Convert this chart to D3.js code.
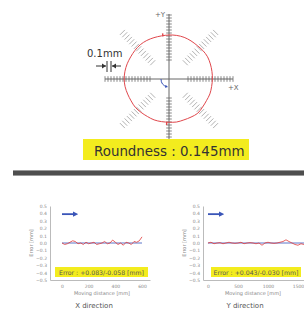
<!DOCTYPE html>
<html>
<head>
<meta charset="utf-8">
<script src="https://d3js.org/d3.v7.min.js"></script>
<style>
  body { margin: 0; background: #fff; }
  svg { display: block; font-family: "DejaVu Sans", Verdana, sans-serif; }
</style>
</head>
<body>
<script>

// roundness profile: deviation in mm every 10 degrees, starting at +X, counterclockwise
var profileAngles = d3.range(0, 360, 10);
var profileDevs = [-0.015, -0.01, 0.0, 0.012, 0.006, -0.006, 0.0, 0.008, 0.006, 0.0,
                   -0.006, 0.0, 0.012, 0.018, 0.012, 0.006, 0.012, 0.018, 0.02, 0.014,
                   0.0, -0.006, 0.0, -0.012, -0.018, -0.012, -0.018, -0.02, -0.008, -0.012,
                   0.0, 0.018, -0.006, -0.018, -0.012, -0.018];
var spikeAngles = [98, 267];
var roundnessLabel = "Roundness : 0.145mm";

// straightness along X
var xDistance = d3.range(0, 601, 20);
var xError = [0.00, -0.02, -0.01, 0.01, 0.03, 0.02, -0.01, 0.00, -0.02, 0.01,
              -0.01, 0.00, 0.01, -0.02, -0.01, 0.00, 0.02, -0.01, 0.00, 0.04,
              0.01, -0.02, 0.00, -0.03, 0.01, 0.00, -0.02, 0.02, 0.01, 0.03, 0.083];
var xTicks = [0, 200, 400, 600];
var xErrorLabel = "Error : +0.083/-0.058 [mm]";

// straightness along Y
var yDistance = d3.range(0, 1601, 50);
var yError = [0.00, 0.01, -0.01, 0.00, 0.005, -0.01, 0.00, 0.01, 0.00, -0.005,
              0.00, 0.01, -0.01, 0.00, 0.005, 0.00, -0.01, 0.00, -0.03, 0.00,
              0.01, 0.00, -0.005, 0.00, 0.01, 0.02, 0.043, 0.02, 0.00, -0.02,
              -0.03, -0.01, -0.02];
var yTicks = [0, 500, 1000, 1500];
var yErrorLabel = "Error : +0.043/-0.030 [mm]";

var errorTicks = [0.5, 0.4, 0.3, 0.2, 0.1, 0, -0.1, -0.2, -0.3, -0.4, -0.5];

var width = 304;
var height = 309;
var yellow = "#f3ec1e";

var svg = d3.select("body")
            .append("svg")
            .attr("width", width)
            .attr("height", height);

svg.append("defs").append("marker")
   .attr("id", "head")
   .attr("viewBox", "0 0 10 10")
   .attr("refX", 6)
   .attr("refY", 5)
   .attr("markerWidth", 3)
   .attr("markerHeight", 3)
   .attr("orient", "auto")
   .append("path")
   .attr("d", "M0,0 L10,5 L0,10 z")
   .attr("fill", "#3a55b8");

// ---------- roundness plot ----------
var cx = 169;
var cy = 79;
var baseRadius = 44;

// mm deviation to pixel radius
var rScale = d3.scaleLinear()
               .domain([0, 0.1])
               .range([baseRadius, baseRadius + 4]);

var roundG = svg.append("g")
                .attr("transform", "translate(" + cx + "," + cy + ")");

// hatch marks on the axes and the diagonals
function hatch(angleDeg, r0, r1, step, half, color) {
  var a = angleDeg * Math.PI / 180;
  var ux = Math.cos(a), uy = -Math.sin(a);
  var px = -uy, py = ux;
  roundG.selectAll(null)
        .data(d3.range(r0, r1, step))
        .enter()
        .append("line")
        .attr("x1", function(r) { return ux * r - px * half; })
        .attr("y1", function(r) { return uy * r - py * half; })
        .attr("x2", function(r) { return ux * r + px * half; })
        .attr("y2", function(r) { return uy * r + py * half; })
        .attr("stroke", color)
        .attr("stroke-width", 0.9);
}

[0, 90, 180, 270].forEach(function(a) { hatch(a, 19, 65, 3, 2.8, "#7a7a7a"); });
[45, 135, 225, 315].forEach(function(a) { hatch(a, 23, 68, 3.3, 3.5, "#a8a8a8"); });

// axes
roundG.append("line")
      .attr("x1", -64).attr("x2", 64)
      .attr("y1", 0).attr("y2", 0)
      .attr("stroke", "#666").attr("stroke-width", 1);

roundG.append("line")
      .attr("x1", 0).attr("x2", 0)
      .attr("y1", -65).attr("y2", 62)
      .attr("stroke", "#666").attr("stroke-width", 1);

roundG.append("text")
      .attr("x", -14).attr("y", -62)
      .attr("font-size", 7).attr("fill", "#666")
      .text("+Y");

roundG.append("text")
      .attr("x", 59).attr("y", 11)
      .attr("font-size", 7).attr("fill", "#666")
      .text("+X");

// measured profile
var radial = d3.lineRadial()
               .angle(function(d, i) { return (90 - profileAngles[i]) * Math.PI / 180; })
               .radius(function(d) { return rScale(d); })
               .curve(d3.curveCardinalClosed);

roundG.append("path")
      .attr("d", radial(profileDevs))
      .attr("fill", "none")
      .attr("stroke", "#e0474c")
      .attr("stroke-width", 1);

// small spikes on the profile
roundG.selectAll("line.spike")
      .data(spikeAngles)
      .enter()
      .append("line")
      .attr("class", "spike")
      .attr("x1", function(d) { return Math.cos(d * Math.PI / 180) * (baseRadius - 1); })
      .attr("y1", function(d) { return -Math.sin(d * Math.PI / 180) * (baseRadius - 1); })
      .attr("x2", function(d) { return Math.cos(d * Math.PI / 180) * (baseRadius + 2); })
      .attr("y2", function(d) { return -Math.sin(d * Math.PI / 180) * (baseRadius + 2); })
      .attr("stroke", "#e0474c")
      .attr("stroke-width", 1.4);

// rotation direction arrow
var rot = d3.path();
rot.arc(0, 0, 8, Math.PI, Math.PI * 0.58, true);
roundG.append("path")
      .attr("d", rot.toString())
      .attr("fill", "none")
      .attr("stroke", "#3a55b8")
      .attr("stroke-width", 1)
      .attr("marker-end", "url(#head)");

// 0.1mm scale marker
var scaleLeft = 107;
var scaleRight = scaleLeft + (rScale(0.1) - rScale(0));

svg.append("text")
   .attr("x", 87).attr("y", 57)
   .attr("font-size", 10).attr("fill", "#333")
   .text("0.1mm");

[scaleLeft, scaleRight].forEach(function(x) {
  svg.append("line")
     .attr("x1", x).attr("x2", x)
     .attr("y1", 61).attr("y2", 72)
     .attr("stroke", "#333").attr("stroke-width", 1);
});

svg.append("line")
   .attr("x1", 96).attr("x2", scaleLeft - 1)
   .attr("y1", 66).attr("y2", 66)
   .attr("stroke", "#333").attr("stroke-width", 1);

svg.append("line")
   .attr("x1", 121).attr("x2", scaleRight + 1)
   .attr("y1", 66).attr("y2", 66)
   .attr("stroke", "#333").attr("stroke-width", 1);

svg.append("path")
   .attr("d", "M" + (scaleLeft - 1) + ",66 l-4,-2.5 l0,5 z M" + (scaleRight + 1) + ",66 l4,-2.5 l0,5 z")
   .attr("fill", "#333");

// roundness label
svg.append("rect")
   .attr("x", 83).attr("y", 139)
   .attr("width", 166).attr("height", 21)
   .attr("fill", yellow);

svg.append("text")
   .attr("x", 94).attr("y", 156)
   .attr("font-size", 13.4).attr("fill", "#333")
   .text(roundnessLabel);

// separator bar
svg.append("rect")
   .attr("x", 13).attr("y", 170)
   .attr("width", 291).attr("height", 6)
   .attr("fill", "#9a9a9a");

svg.append("rect")
   .attr("x", 13).attr("y", 171)
   .attr("width", 291).attr("height", 4)
   .attr("fill", "#4e4e4e");

// ---------- straightness charts ----------
function drawChart(distance, error, ticks, xDomain, left, right, boxX, boxW, label, title) {

  var g = svg.append("g");

  var xScale = d3.scaleLinear()
                 .domain(xDomain)
                 .range([left, right]);

  var yScale = d3.scaleLinear()
                 .domain([-0.5, 0.5])
                 .range([280, 206]);

  // y axis
  var yAxis = d3.axisLeft(yScale)
                .tickValues(errorTicks)
                .tickFormat(d3.format(".1f"))
                .tickSize(0)
                .tickPadding(3);

  g.append("g")
   .attr("transform", "translate(" + left + ",0)")
   .call(yAxis)
   .call(function(a) {
     a.select(".domain").attr("stroke", "#bbb");
     a.selectAll("text").attr("font-size", 4.5).attr("fill", "#888")
      .attr("font-family", "DejaVu Sans");
   });

  // x axis
  var xAxis = d3.axisBottom(xScale)
                .tickValues(ticks)
                .tickFormat(d3.format("d"))
                .tickSize(0)
                .tickPadding(5);

  g.append("g")
   .attr("transform", "translate(0," + yScale(-0.5) + ")")
   .call(xAxis)
   .call(function(a) {
     a.select(".domain").attr("stroke", "#bbb");
     a.selectAll("text").attr("font-size", 4.5).attr("fill", "#888")
      .attr("font-family", "DejaVu Sans");
   });

  // axis titles
  g.append("text")
   .attr("transform", "translate(" + (left - 17) + "," + yScale(0) + ")rotate(-90)")
   .attr("text-anchor", "middle")
   .attr("font-size", 5).attr("fill", "#888")
   .text("Error [mm]");

  g.append("text")
   .attr("x", (xScale(ticks[0]) + xScale(ticks[ticks.length - 1])) / 2)
   .attr("y", 295)
   .attr("text-anchor", "middle")
   .attr("font-size", 5).attr("fill", "#888")
   .text("Moving distance [mm]");

  g.append("text")
   .attr("x", (xScale(ticks[0]) + xScale(ticks[ticks.length - 1])) / 2 - 8)
   .attr("y", 308)
   .attr("text-anchor", "middle")
   .attr("font-size", 7).attr("fill", "#555")
   .text(title);

  // direction arrow
  g.append("line")
   .attr("x1", xScale(0)).attr("x2", xScale(0) + 14)
   .attr("y1", yScale(0.39)).attr("y2", yScale(0.39))
   .attr("stroke", "#3a55b8").attr("stroke-width", 1.8)
   .attr("marker-end", "url(#head)");

  // fitted line and measured line
  g.append("line")
   .attr("x1", xScale(distance[0])).attr("x2", xScale(distance[distance.length - 1]))
   .attr("y1", yScale(0)).attr("y2", yScale(0))
   .attr("stroke", "#4a66c4").attr("stroke-width", 0.9);

  var line = d3.line()
               .x(function(d, i) { return xScale(distance[i]); })
               .y(function(d) { return yScale(d); });

  g.append("path")
   .attr("d", line(error))
   .attr("fill", "none")
   .attr("stroke", "#e03a3a")
   .attr("stroke-width", 0.8);

  // error label
  g.append("rect")
   .attr("x", boxX).attr("y", 267)
   .attr("width", boxW).attr("height", 10)
   .attr("fill", yellow);

  g.append("text")
   .attr("x", boxX + boxW / 2).attr("y", 274.5)
   .attr("text-anchor", "middle")
   .attr("font-size", 6.2).attr("fill", "#555")
   .text(label);
}

drawChart(xDistance, xError, xTicks, [-90, 660], 50, 150, 55, 93, xErrorLabel, "X direction");
drawChart(yDistance, yError, yTicks, [-83, 1700], 203, 310, 211, 90, yErrorLabel, "Y direction");

</script>
</body>
</html>
